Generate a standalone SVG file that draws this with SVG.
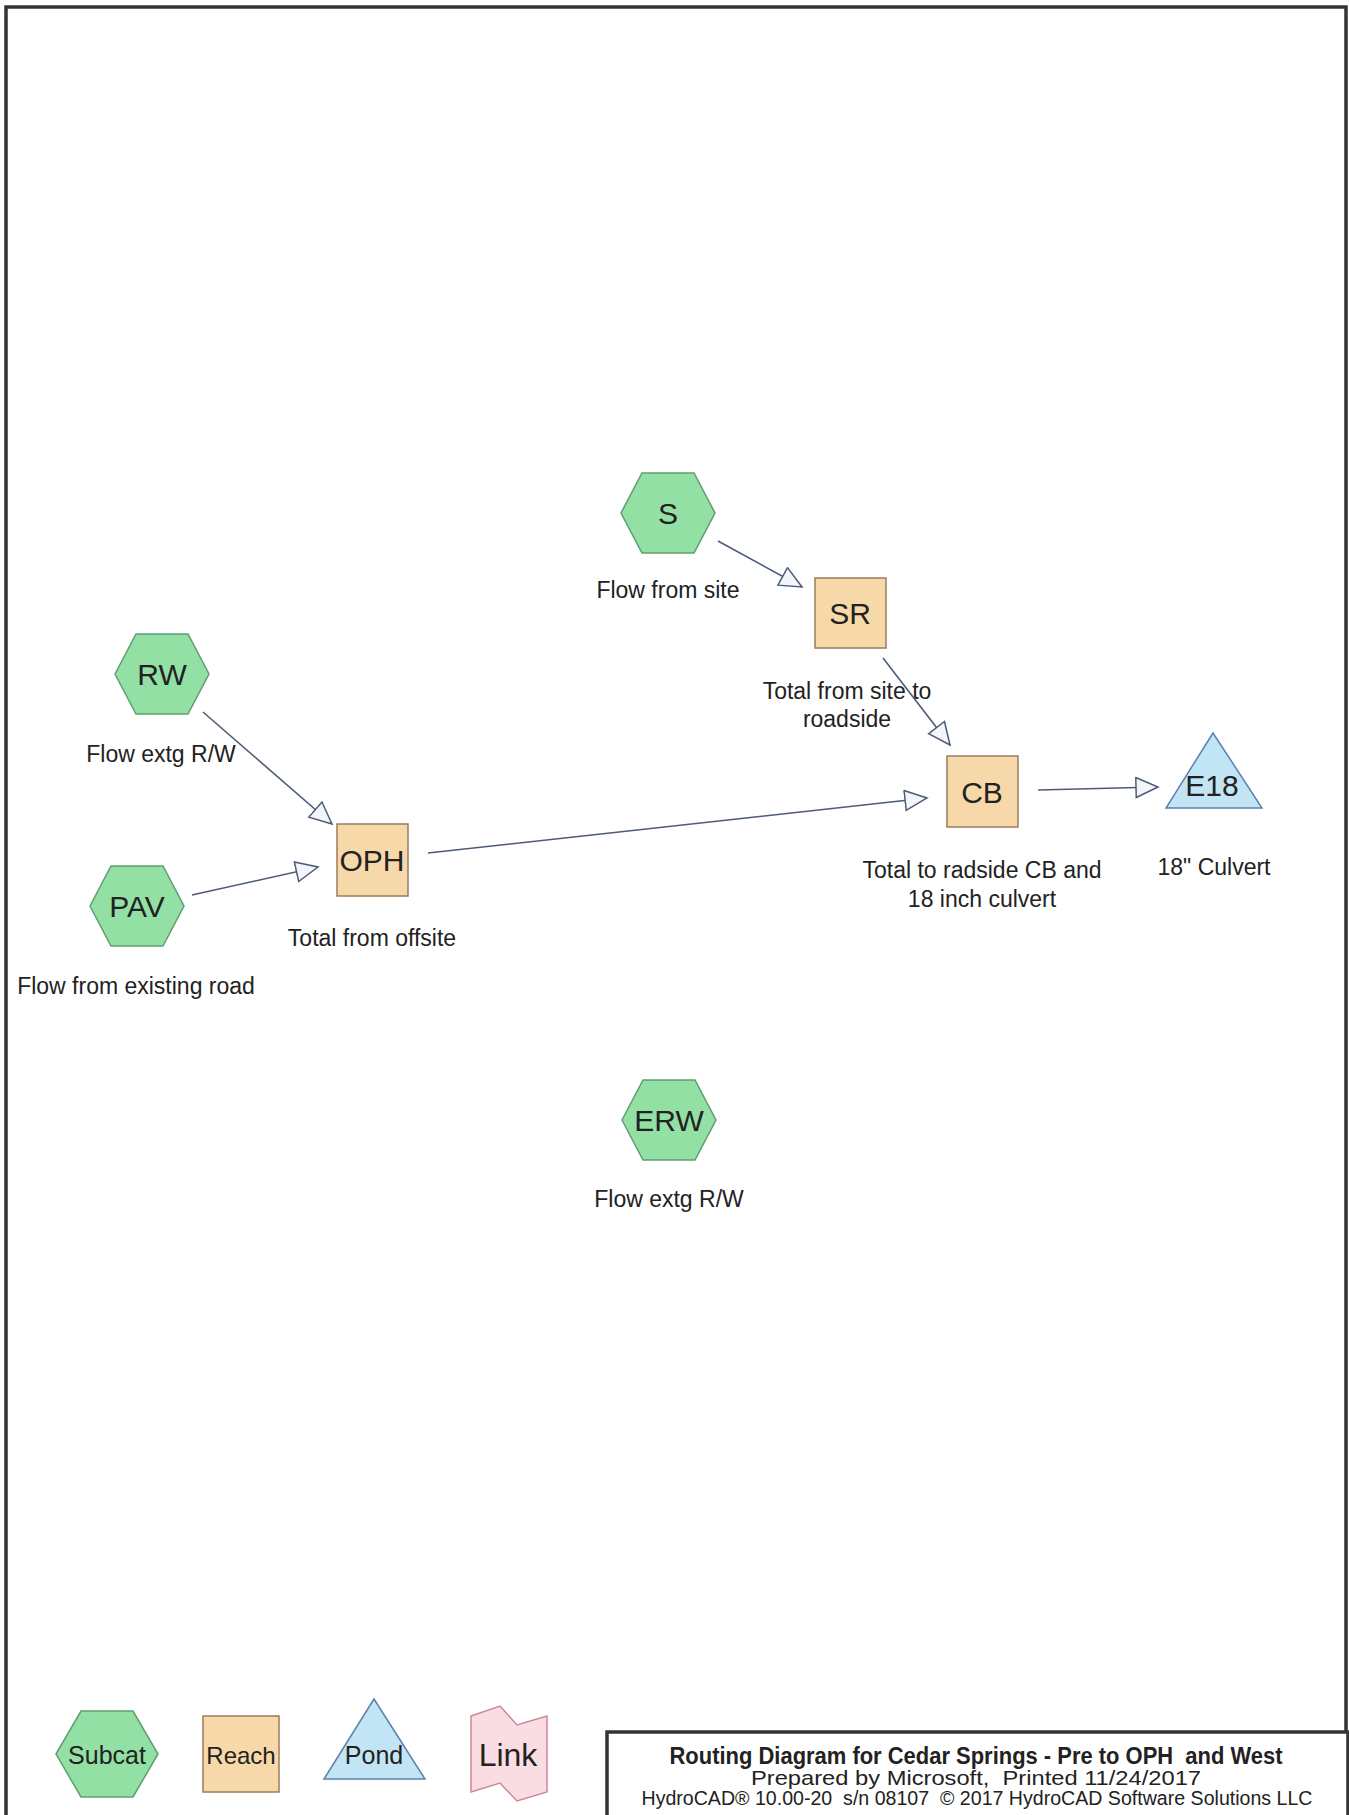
<svg xmlns="http://www.w3.org/2000/svg" width="1349" height="1815" viewBox="0 0 1349 1815">
<style>
text{font-family:"Liberation Sans",Arial,sans-serif;fill:#222}
.lbl{font-size:23px;text-anchor:middle}
.nid{font-size:30px;text-anchor:middle}
.sub{fill:#93e0a4;stroke:#5f9e6f;stroke-width:1.5}
.rch{fill:#f7d9a9;stroke:#9a7c5c;stroke-width:1.5}
.pnd{fill:#c2e5f5;stroke:#5a82ac;stroke-width:1.5}
.lnk{fill:#f9dde2;stroke:#cf8797;stroke-width:1.5}
.con{stroke:#4d5b78;stroke-width:1.6;fill:none}
.ttl{text-anchor:middle;white-space:pre}
</style>
<defs>
<marker id="ah" markerUnits="userSpaceOnUse" markerWidth="26" markerHeight="24" refX="23" refY="11" orient="auto">
<polygon points="1,1 23,11 1,21" fill="#f2f5fa" stroke="#4d5b78" stroke-width="1.5"/>
</marker>
</defs>
<rect x="0" y="0" width="1349" height="1815" fill="#fff"/>
<path d="M6,1815 V7 H1346 V1815" fill="none" stroke="#333" stroke-width="3.5"/>

<g id="connectors">
<line class="con" x1="718" y1="541" x2="802" y2="587" marker-end="url(#ah)"/>
<line class="con" x1="883" y1="658" x2="950" y2="745" marker-end="url(#ah)"/>
<line class="con" x1="203" y1="712" x2="332" y2="824" marker-end="url(#ah)"/>
<line class="con" x1="192" y1="895" x2="318" y2="867" marker-end="url(#ah)"/>
<line class="con" x1="428" y1="853" x2="927" y2="798" marker-end="url(#ah)"/>
<line class="con" x1="1038" y1="790" x2="1158" y2="787" marker-end="url(#ah)"/>
</g>

<g id="node-S">
<polygon class="sub" points="621,513 642,473 694,473 715,513 694,553 642,553"/>
<text class="nid" x="668" y="524">S</text>
<text class="lbl" x="668" y="598">Flow from site</text>
</g>
<g id="node-SR">
<rect class="rch" x="815" y="578" width="71" height="70"/>
<text class="nid" x="850" y="624">SR</text>
<text class="lbl" x="847" y="699">Total from site to</text>
<text class="lbl" x="847" y="727">roadside</text>
</g>
<g id="node-RW">
<polygon class="sub" points="115,674 136,634 188,634 209,674 188,714 136,714"/>
<text class="nid" x="162" y="685">RW</text>
<text class="lbl" x="161" y="762">Flow extg R/W</text>
</g>
<g id="node-OPH">
<rect class="rch" x="337" y="824" width="71" height="72"/>
<text class="nid" x="372" y="871">OPH</text>
<text class="lbl" x="372" y="946">Total from offsite</text>
</g>
<g id="node-PAV">
<polygon class="sub" points="90,906 111,866 163,866 184,906 163,946 111,946"/>
<text class="nid" x="137" y="917">PAV</text>
<text class="lbl" x="136" y="994">Flow from existing road</text>
</g>
<g id="node-CB">
<rect class="rch" x="947" y="756" width="71" height="71"/>
<text class="nid" x="982" y="803">CB</text>
<text class="lbl" x="982" y="878">Total to radside CB and</text>
<text class="lbl" x="982" y="907">18 inch culvert</text>
</g>
<g id="node-E18">
<polygon class="pnd" points="1213,733 1262,808 1166,808"/>
<text class="nid" x="1212" y="796">E18</text>
<text class="lbl" x="1214" y="875">18" Culvert</text>
</g>
<g id="node-ERW">
<polygon class="sub" points="622,1120 643,1080 695,1080 716,1120 695,1160 643,1160"/>
<text class="nid" x="669" y="1131">ERW</text>
<text class="lbl" x="669" y="1207">Flow extg R/W</text>
</g>

<g id="legend">
<polygon class="sub" points="56,1754 81,1711 133,1711 158,1754 133,1797 81,1797"/>
<text x="107" y="1764" style="font-size:25px;text-anchor:middle">Subcat</text>
<rect class="rch" x="203" y="1716" width="76" height="76"/>
<text x="241" y="1764" style="font-size:24px;text-anchor:middle">Reach</text>
<polygon class="pnd" points="374,1699 425,1779 324,1779"/>
<text x="374" y="1764" style="font-size:25px;text-anchor:middle">Pond</text>
<polygon class="lnk" points="471,1716 500,1706 517,1725 547,1716 547,1792 517,1801 500,1783 471,1792"/>
<text x="508" y="1766" style="font-size:32px;text-anchor:middle">Link</text>
</g>

<g id="title-block">
<rect x="607" y="1732" width="741" height="90" fill="#fff" stroke="#333" stroke-width="3.5"/>
<text class="ttl" x="976" y="1764" style="font-size:24px;font-weight:bold" textLength="613" lengthAdjust="spacingAndGlyphs">Routing Diagram for Cedar Springs - Pre to OPH  and West</text>
<text class="ttl" x="976" y="1785" style="font-size:21px" textLength="450" lengthAdjust="spacingAndGlyphs">Prepared by Microsoft,  Printed 11/24/2017</text>
<text class="ttl" x="977" y="1805" style="font-size:20px" textLength="671" lengthAdjust="spacingAndGlyphs">HydroCAD® 10.00-20  s/n 08107  © 2017 HydroCAD Software Solutions LLC</text>
</g>
</svg>
